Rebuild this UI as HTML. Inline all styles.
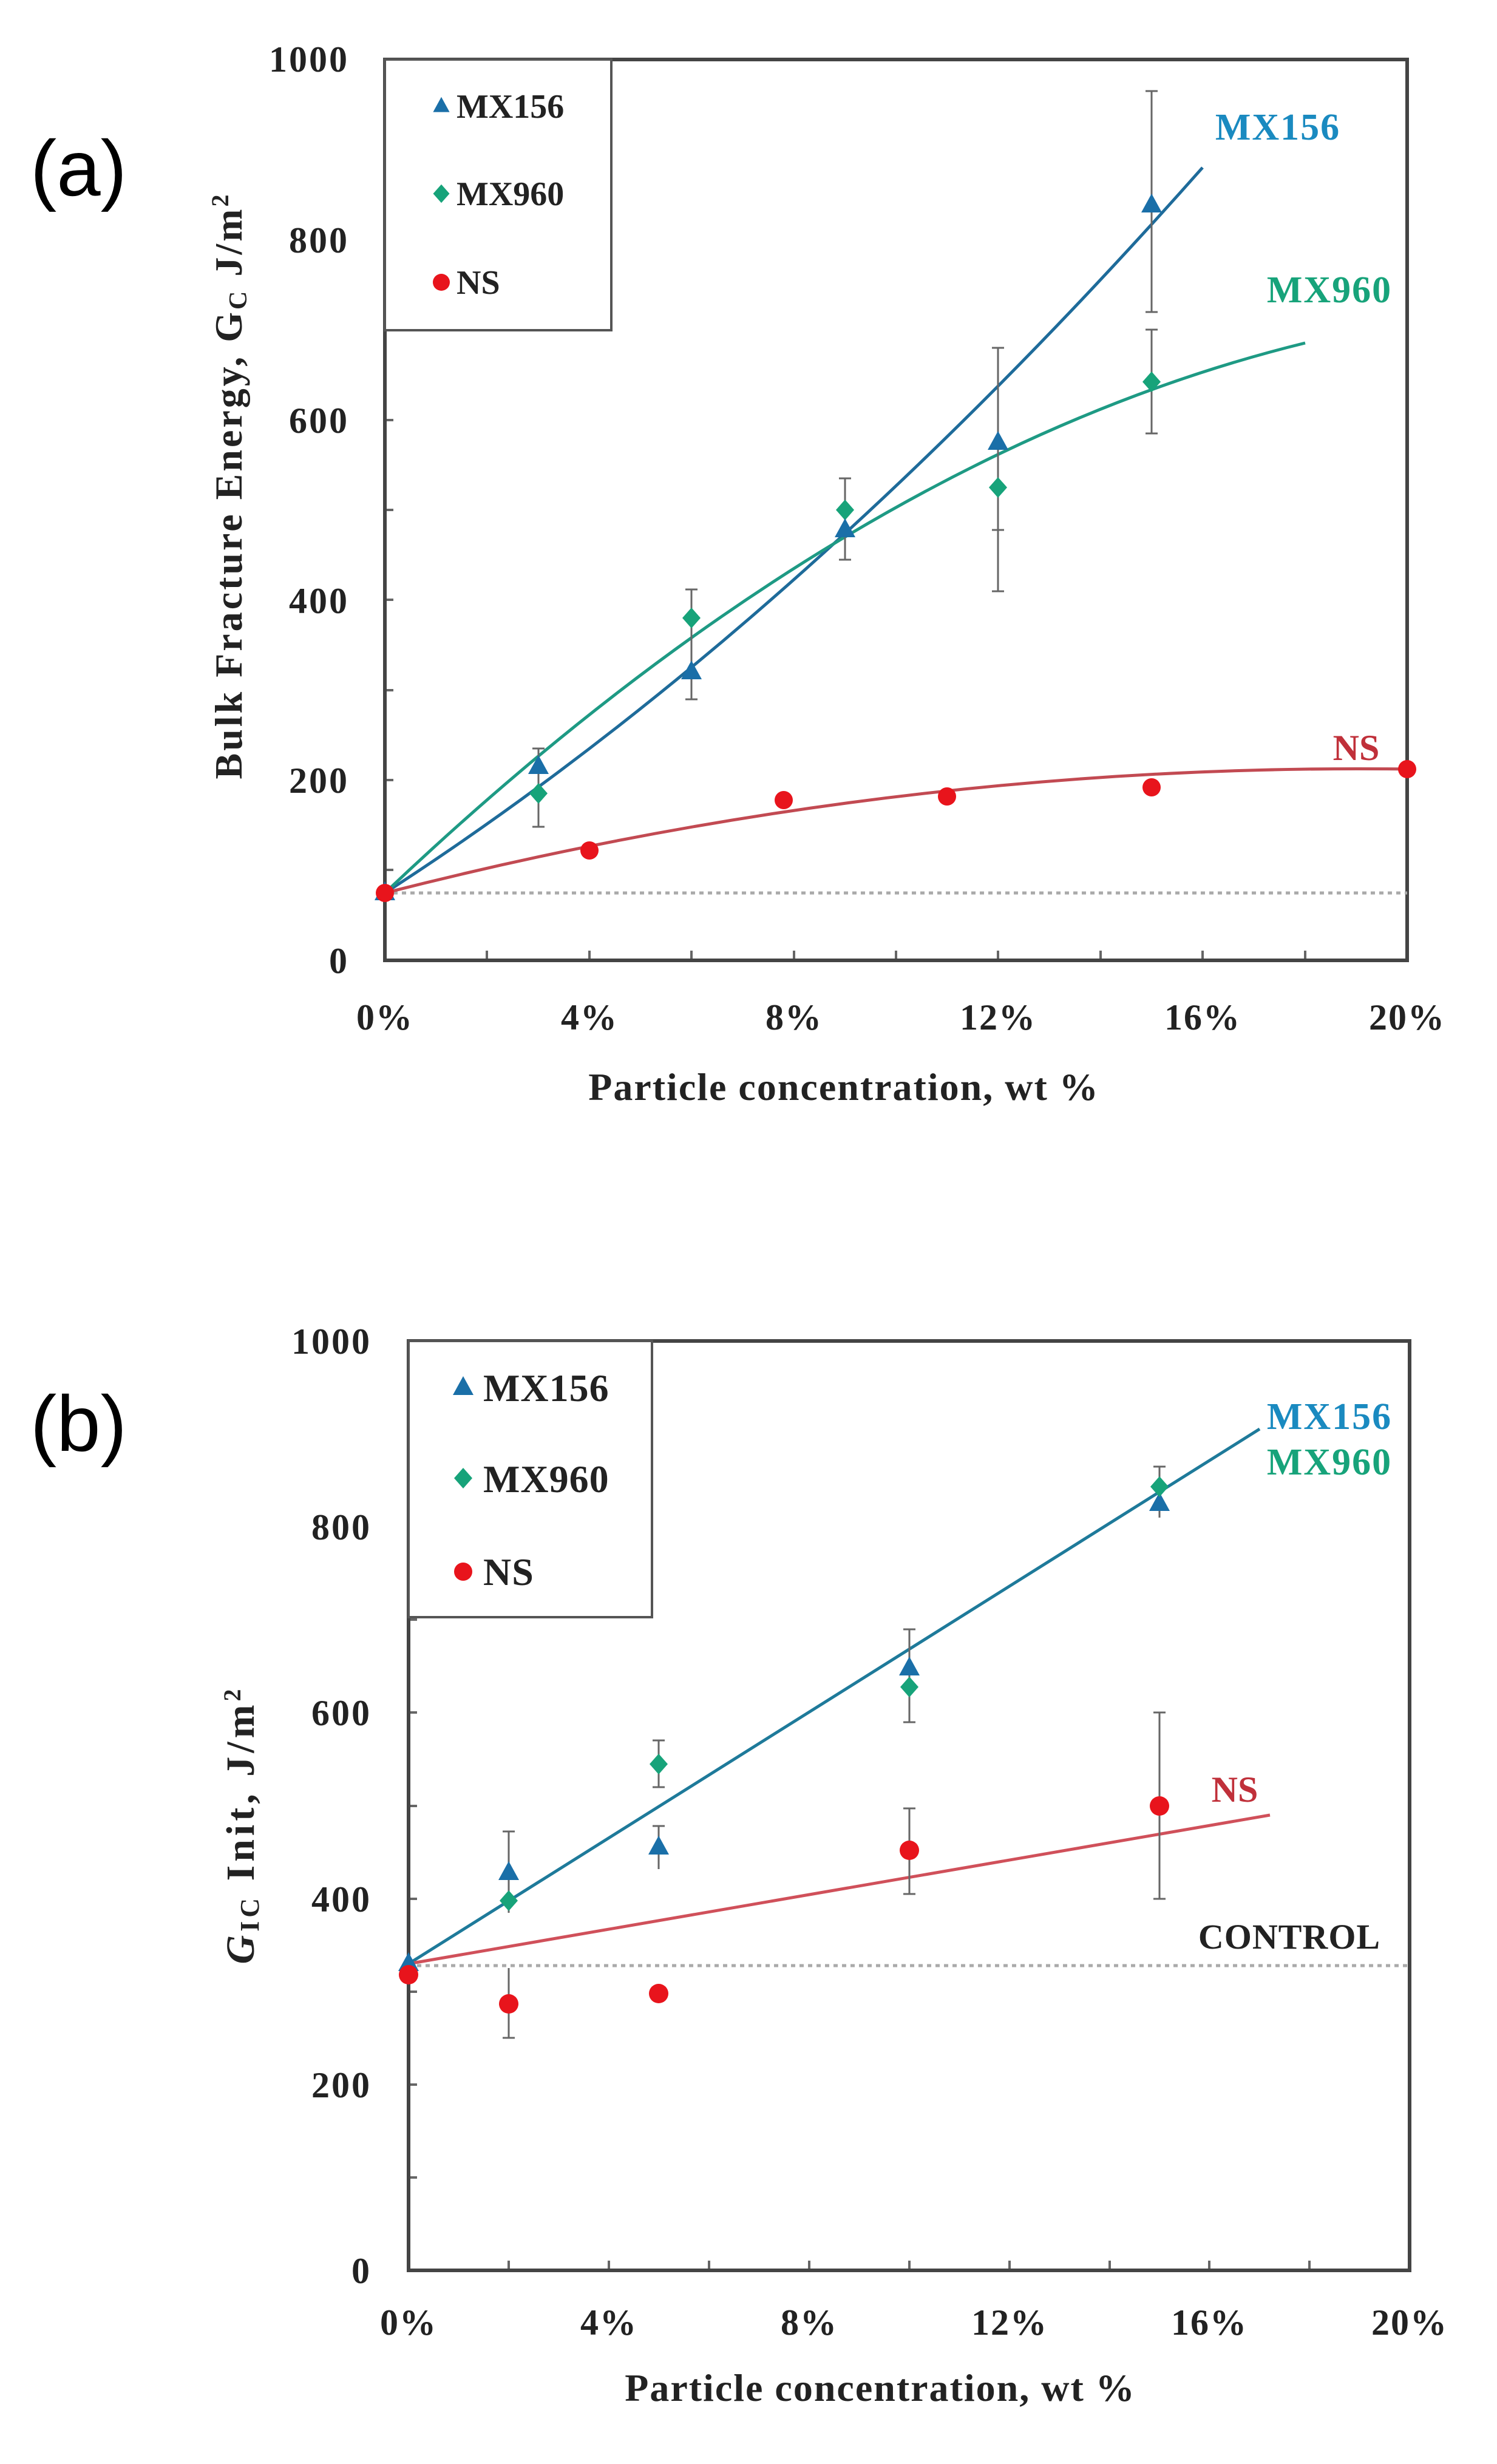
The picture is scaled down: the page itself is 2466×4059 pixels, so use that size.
<!DOCTYPE html>
<html><head><meta charset="utf-8"><style>
html,body{margin:0;padding:0;background:#fff}
svg{display:block}
text{font-family:"Liberation Serif",serif;font-weight:bold}
</style></head><body>
<svg width="2466" height="4059" viewBox="0 0 2466 4059" xmlns="http://www.w3.org/2000/svg">
<defs>
<g id="tri"><polygon points="0,-19 17,12 -17,12"/></g>
<g id="dia"><polygon points="0,-17 15,0 0,17 -15,0"/></g>
</defs>

<!-- ===== (a) ===== -->
<text x="50" y="322" style="font-family:'Liberation Sans',sans-serif;font-weight:normal" font-size="130">(a)</text>
<g stroke="#666" stroke-width="4">
<line x1="634" y1="1433" x2="648" y2="1433"/><line x1="634" y1="1285" x2="648" y2="1285"/>
<line x1="634" y1="1137" x2="648" y2="1137"/><line x1="634" y1="988" x2="648" y2="988"/>
<line x1="634" y1="840" x2="648" y2="840"/><line x1="634" y1="692" x2="648" y2="692"/>
<line x1="634" y1="543" x2="648" y2="543"/><line x1="634" y1="395" x2="648" y2="395"/>
<line x1="634" y1="246" x2="648" y2="246"/>
<line x1="802" y1="1582" x2="802" y2="1566"/><line x1="971" y1="1582" x2="971" y2="1566"/>
<line x1="1139" y1="1582" x2="1139" y2="1566"/><line x1="1308" y1="1582" x2="1308" y2="1566"/>
<line x1="1476" y1="1582" x2="1476" y2="1566"/><line x1="1644" y1="1582" x2="1644" y2="1566"/>
<line x1="1813" y1="1582" x2="1813" y2="1566"/><line x1="1981" y1="1582" x2="1981" y2="1566"/>
<line x1="2150" y1="1582" x2="2150" y2="1566"/>
</g>
<rect x="634" y="98" width="1684" height="1484" fill="none" stroke="#444" stroke-width="6"/>
<line x1="634" y1="1471" x2="2318" y2="1471" stroke="#aaa" stroke-width="5" stroke-dasharray="7,7"/>
<!-- legend -->
<rect x="634" y="98" width="373" height="446" fill="#fff" stroke="#555" stroke-width="4"/>
<use href="#tri" fill="#1a6fa8" transform="translate(727,175) scale(0.8)"/>
<use href="#dia" fill="#17a37a" transform="translate(727,319) scale(0.9)"/>
<circle cx="727" cy="465" r="14" fill="#e8141c"/>
<g font-size="56" fill="#222">
<text x="752" y="194">MX156</text><text x="752" y="338">MX960</text><text x="752" y="484">NS</text>
</g>
<g font-size="60" fill="#222" text-anchor="end" letter-spacing="3">
<text x="575" y="118">1000</text><text x="575" y="416">800</text><text x="575" y="713">600</text>
<text x="575" y="1010">400</text><text x="575" y="1306">200</text><text x="575" y="1603">0</text>
</g>
<g font-size="60" fill="#222" text-anchor="middle" letter-spacing="2">
<text x="634" y="1696">0%</text><text x="971" y="1696">4%</text><text x="1308" y="1696">8%</text>
<text x="1644" y="1696">12%</text><text x="1981" y="1696">16%</text><text x="2318" y="1696">20%</text>
</g>
<text x="1390" y="1812" font-size="64" fill="#222" text-anchor="middle" letter-spacing="2">Particle concentration, wt %</text>
<text transform="translate(398,800) rotate(-90)" font-size="64" fill="#222" text-anchor="middle" letter-spacing="4">Bulk Fracture Energy, G<tspan font-size="42" dy="8">C</tspan><tspan dy="-8"> J/m</tspan><tspan font-size="40" dy="-22">2</tspan></text>
<!-- curves -->
<path d="M634,1471 Q1308,1036 1981,276" fill="none" stroke="#1e6b9a" stroke-width="5"/>
<path d="M634,1471 Q1392,751 2150,565" fill="none" stroke="#1e9a84" stroke-width="5"/>
<path d="M634,1471 Q1476,1256 2318,1267" fill="none" stroke="#c24a52" stroke-width="5"/>
<!-- error bars -->
<g stroke="#666" stroke-width="3">
<line x1="1897" y1="150" x2="1897" y2="514"/><line x1="1887" y1="150" x2="1907" y2="150"/><line x1="1887" y1="514" x2="1907" y2="514"/>
<line x1="1644" y1="573" x2="1644" y2="974"/><line x1="1634" y1="573" x2="1654" y2="573"/><line x1="1634" y1="974" x2="1654" y2="974"/><line x1="1634" y1="873" x2="1654" y2="873"/>
<line x1="1392" y1="788" x2="1392" y2="922"/><line x1="1382" y1="788" x2="1402" y2="788"/><line x1="1382" y1="922" x2="1402" y2="922"/>
<line x1="1139" y1="971" x2="1139" y2="1152"/><line x1="1129" y1="971" x2="1149" y2="971"/><line x1="1129" y1="1152" x2="1149" y2="1152"/>
<line x1="887" y1="1233" x2="887" y2="1362"/><line x1="877" y1="1233" x2="897" y2="1233"/><line x1="877" y1="1362" x2="897" y2="1362"/>
<line x1="1897" y1="543" x2="1897" y2="714"/><line x1="1887" y1="543" x2="1907" y2="543"/><line x1="1887" y1="714" x2="1907" y2="714"/>
</g>
<g fill="#17a37a">
<use href="#dia" transform="translate(887,1307)"/><use href="#dia" transform="translate(1139,1018)"/>
<use href="#dia" transform="translate(1392,840)"/><use href="#dia" transform="translate(1644,803)"/>
<use href="#dia" transform="translate(1897,629)"/>
</g>
<g fill="#1a6fa8">
<use href="#tri" transform="translate(634,1471)"/><use href="#tri" transform="translate(887,1263)"/>
<use href="#tri" transform="translate(1139,1107)"/><use href="#tri" transform="translate(1392,873)"/>
<use href="#tri" transform="translate(1644,729)"/><use href="#tri" transform="translate(1897,338)"/>
</g>
<g fill="#e8141c">
<circle cx="634" cy="1471" r="15"/><circle cx="971" cy="1401" r="15"/><circle cx="1291" cy="1318" r="15"/>
<circle cx="1560" cy="1312" r="15"/><circle cx="1897" cy="1297" r="15"/><circle cx="2318" cy="1267" r="15"/>
</g>
<text x="2105" y="230" font-size="62" fill="#1a8ac0" text-anchor="middle" letter-spacing="2">MX156</text>
<text x="2190" y="498" font-size="62" fill="#17a37a" text-anchor="middle" letter-spacing="2">MX960</text>
<text x="2234" y="1252" font-size="60" fill="#c0303a" text-anchor="middle">NS</text>

<!-- ===== (b) ===== -->
<text x="50" y="2390" style="font-family:'Liberation Sans',sans-serif;font-weight:normal" font-size="130">(b)</text>
<g stroke="#666" stroke-width="4">
<line x1="673" y1="3587" x2="687" y2="3587"/><line x1="673" y1="3434" x2="687" y2="3434"/>
<line x1="673" y1="3281" x2="687" y2="3281"/><line x1="673" y1="3128" x2="687" y2="3128"/>
<line x1="673" y1="2975" x2="687" y2="2975"/><line x1="673" y1="2821" x2="687" y2="2821"/>
<line x1="673" y1="2668" x2="687" y2="2668"/><line x1="673" y1="2515" x2="687" y2="2515"/>
<line x1="673" y1="2362" x2="687" y2="2362"/>
<line x1="838" y1="3740" x2="838" y2="3724"/><line x1="1003" y1="3740" x2="1003" y2="3724"/>
<line x1="1168" y1="3740" x2="1168" y2="3724"/><line x1="1333" y1="3740" x2="1333" y2="3724"/>
<line x1="1498" y1="3740" x2="1498" y2="3724"/><line x1="1663" y1="3740" x2="1663" y2="3724"/>
<line x1="1828" y1="3740" x2="1828" y2="3724"/><line x1="1992" y1="3740" x2="1992" y2="3724"/>
<line x1="2157" y1="3740" x2="2157" y2="3724"/>
</g>
<rect x="673" y="2209" width="1649" height="1531" fill="none" stroke="#444" stroke-width="6"/>
<line x1="673" y1="3238" x2="2322" y2="3238" stroke="#aaa" stroke-width="5" stroke-dasharray="7,7"/>
<rect x="673" y="2209" width="401" height="455" fill="#fff" stroke="#555" stroke-width="4"/>
<use href="#tri" fill="#1a6fa8" transform="translate(763,2286)"/>
<use href="#dia" fill="#17a37a" transform="translate(763,2435)"/>
<circle cx="763" cy="2589" r="15" fill="#e8141c"/>
<g font-size="64" fill="#222" letter-spacing="1">
<text x="796" y="2308">MX156</text><text x="796" y="2458">MX960</text><text x="796" y="2611">NS</text>
</g>
<g font-size="60" fill="#222" text-anchor="end" letter-spacing="3">
<text x="612" y="2230">1000</text><text x="612" y="2536">800</text><text x="612" y="2842">600</text>
<text x="612" y="3149">400</text><text x="612" y="3455">200</text><text x="612" y="3761">0</text>
</g>
<g font-size="60" fill="#222" text-anchor="middle" letter-spacing="2">
<text x="673" y="3846">0%</text><text x="1003" y="3846">4%</text><text x="1333" y="3846">8%</text>
<text x="1663" y="3846">12%</text><text x="1992" y="3846">16%</text><text x="2322" y="3846">20%</text>
</g>
<text x="1450" y="3955" font-size="64" fill="#222" text-anchor="middle" letter-spacing="2">Particle concentration, wt %</text>
<text transform="translate(418,3006) rotate(-90)" font-size="66" fill="#222" text-anchor="middle" letter-spacing="6"><tspan font-style="italic">G</tspan><tspan font-size="44" dy="8">IC</tspan><tspan dy="-8"> Init, J/m</tspan><tspan font-size="40" dy="-22">2</tspan></text>
<line x1="673" y1="3235" x2="2075" y2="2354" stroke="#1e7a9a" stroke-width="5"/>
<line x1="673" y1="3235" x2="2092" y2="2990" stroke="#d0505a" stroke-width="5"/>
<g stroke="#666" stroke-width="3">
<line x1="838" y1="3017" x2="838" y2="3151"/><line x1="828" y1="3017" x2="848" y2="3017"/>
<line x1="1085" y1="3008" x2="1085" y2="3079"/><line x1="1075" y1="3008" x2="1095" y2="3008"/>
<line x1="1498" y1="2684" x2="1498" y2="2837"/><line x1="1488" y1="2684" x2="1508" y2="2684"/><line x1="1488" y1="2837" x2="1508" y2="2837"/>
<line x1="1910" y1="2416" x2="1910" y2="2500"/><line x1="1900" y1="2416" x2="1920" y2="2416"/>
<line x1="1085" y1="2867" x2="1085" y2="2944"/><line x1="1075" y1="2867" x2="1095" y2="2867"/><line x1="1075" y1="2944" x2="1095" y2="2944"/>
<line x1="838" y1="3242" x2="838" y2="3357"/><line x1="828" y1="3357" x2="848" y2="3357"/>
<line x1="1498" y1="2979" x2="1498" y2="3120"/><line x1="1488" y1="2979" x2="1508" y2="2979"/><line x1="1488" y1="3120" x2="1508" y2="3120"/>
<line x1="1910" y1="2821" x2="1910" y2="3128"/><line x1="1900" y1="2821" x2="1920" y2="2821"/><line x1="1900" y1="3128" x2="1920" y2="3128"/>
</g>
<g fill="#1a6fa8">
<use href="#tri" transform="translate(673,3235)"/><use href="#tri" transform="translate(838,3085)"/>
<use href="#tri" transform="translate(1085,3043)"/><use href="#tri" transform="translate(1498,2748)"/>
<use href="#tri" transform="translate(1910,2477)"/>
</g>
<g fill="#17a37a">
<use href="#dia" transform="translate(838,3131)"/><use href="#dia" transform="translate(1085,2906)"/>
<use href="#dia" transform="translate(1498,2779)"/><use href="#dia" transform="translate(1910,2449)"/>
</g>
<g fill="#e8141c">
<circle cx="673" cy="3253" r="16"/><circle cx="838" cy="3301" r="16"/><circle cx="1085" cy="3284" r="16"/>
<circle cx="1498" cy="3048" r="16"/><circle cx="1910" cy="2975" r="16"/>
</g>
<text x="2190" y="2354" font-size="62" fill="#1a8ac0" text-anchor="middle" letter-spacing="2">MX156</text>
<text x="2190" y="2429" font-size="62" fill="#17a37a" text-anchor="middle" letter-spacing="2">MX960</text>
<text x="2034" y="2968" font-size="60" fill="#c0303a" text-anchor="middle">NS</text>
<text x="2124" y="3210" font-size="58" fill="#222" text-anchor="middle" letter-spacing="1">CONTROL</text>
</svg>
</body></html>
